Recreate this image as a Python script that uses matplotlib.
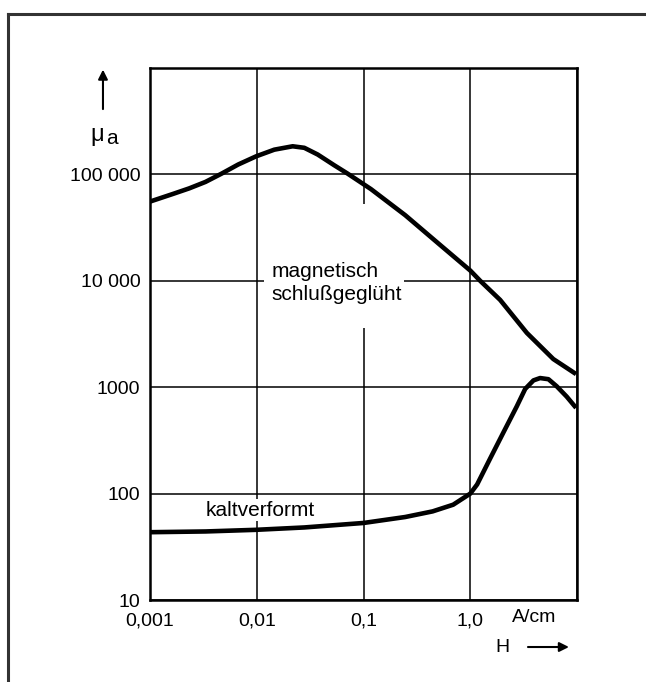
import matplotlib
matplotlib.use('Agg')
import matplotlib.pyplot as plt
from matplotlib.lines import Line2D
from matplotlib.patches import Rectangle
from matplotlib.ticker import NullLocator

plt.rcParams['font.family'] = ['Liberation Sans', 'DejaVu Sans']

# Feldstaerke H in A/cm
h_schluss = [0.001, 0.00164, 0.00233, 0.00331, 0.0047, 0.0067, 0.00986, 0.0146,
             0.0217, 0.0279, 0.0372, 0.0532, 0.0708, 0.1175, 0.246, 0.515, 1.0,
             1.24, 1.905, 3.39, 6.0, 9.8]
mu_schluss = [55600, 65600, 74000, 85100, 102000, 124000, 148000, 171000,
              184000, 178000, 154000, 122000, 102000, 72800, 41400, 22000, 12500,
              10000, 6620, 3240, 1840, 1330]

h_kalt = [0.001, 0.00331, 0.00986, 0.0279, 0.1, 0.246, 0.444, 0.692, 1.0, 1.16,
          1.54, 2.05, 2.73, 3.27, 3.91, 4.51, 5.40, 6.46, 8.0, 9.8]
mu_kalt = [43.4, 44.1, 45.7, 48.1, 53.0, 60.3, 68.1, 78.7, 100, 122,
           215, 378, 662, 964, 1160, 1220, 1190, 1020, 817, 640]

x_ticks = [0.001, 0.01, 0.1, 1.0, 10.0]
x_labels = ['0,001', '0,01', '0,1', '1,0', '']
y_ticks = [10, 100, 1000, 10000, 100000]
y_labels = ['10', '100', '1000', '10 000', '100 000']

fig = plt.figure(figsize=(6.46, 6.82), dpi=100)
ax = fig.add_axes([0.2322, 0.1202, 0.661, 0.780])

ax.set_xscale('log')
ax.set_yscale('log')
ax.set_xlim(0.001, 10)
ax.set_ylim(10, 1e6)

ax.set_xticks(x_ticks)
ax.set_xticklabels(x_labels)
ax.set_yticks(y_ticks)
ax.set_yticklabels(y_labels)
ax.xaxis.set_minor_locator(NullLocator())
ax.yaxis.set_minor_locator(NullLocator())
ax.tick_params(axis='both', length=0, labelsize=14)
ax.tick_params(axis='x', pad=9)
ax.tick_params(axis='y', pad=7)

ax.grid(True, color='black', linewidth=1.1)
ax.set_axisbelow(True)
for s in ax.spines.values():
    s.set_linewidth(1.8)

# weisse Flaeche hinter der Beschriftung (Gitter unterbrochen)
ax.add_patch(Rectangle((0.0116, 3580), 0.237 - 0.0116, 53100 - 3580,
                       facecolor='white', edgecolor='none', zorder=1.5))
ax.text(0.0137, 9600, 'magnetisch\nschlußgeglüht', fontsize=15,
        ha='left', va='center', linespacing=1.25, zorder=2)
ax.text(0.0033, 70, 'kaltverformt', fontsize=15, ha='left', va='center',
        zorder=2, bbox=dict(facecolor='white', edgecolor='none', pad=1))

ax.plot(h_schluss, mu_schluss, color='black', linewidth=3.3,
        solid_joinstyle='round', solid_capstyle='butt', zorder=3)
ax.plot(h_kalt, mu_kalt, color='black', linewidth=3.3,
        solid_joinstyle='round', solid_capstyle='butt', zorder=3)

# Achsenbezeichnungen mit Pfeilen
fig.text(0.150, 0.802, 'μ', fontsize=17, ha='center', va='center')
fig.text(0.173, 0.797, 'a', fontsize=15, ha='center', va='center')
ax.annotate('', xy=(0.1594, 0.902), xytext=(0.1594, 0.836),
            xycoords='figure fraction', textcoords='figure fraction',
            arrowprops=dict(arrowstyle='-|>', color='black', lw=1.5,
                            mutation_scale=14))
fig.text(0.8266, 0.0953, 'A/cm', fontsize=14, ha='center', va='center')
fig.text(0.777, 0.0499, 'H', fontsize=14, ha='center', va='center')
ax.annotate('', xy=(0.885, 0.0513), xytext=(0.813, 0.0513),
            xycoords='figure fraction', textcoords='figure fraction',
            arrowprops=dict(arrowstyle='-|>', color='black', lw=1.5,
                            mutation_scale=14))

# Rahmen oben und links
fig.add_artist(Line2D([0.0124, 0.0124], [0, 0.979], transform=fig.transFigure,
                      color='#333333', linewidth=2.2))
fig.add_artist(Line2D([0.0124, 1.0], [0.979, 0.979], transform=fig.transFigure,
                      color='#333333', linewidth=2.2))

fig.savefig('out.png', dpi=100)
